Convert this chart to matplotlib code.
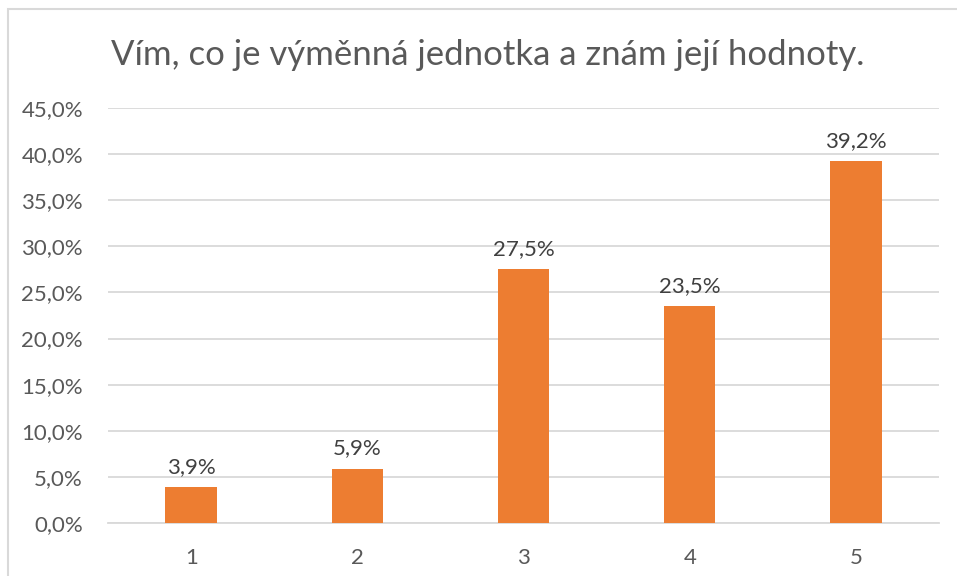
import matplotlib
matplotlib.use('Agg')
import matplotlib.pyplot as plt
from matplotlib.patches import Rectangle

# data
categories = ['1', '2', '3', '4', '5']
values = [3.9, 5.9, 27.5, 23.5, 39.2]
yticks = [0, 5, 10, 15, 20, 25, 30, 35, 40, 45]

plt.rcParams['font.family'] = ['Lato', 'DejaVu Sans']

fig = plt.figure(figsize=(9.57, 5.76), dpi=100)
ax = fig.add_axes([0.1129, 0.092, 0.8683, 0.7205])

x = range(len(categories))
ax.bar(x, values, width=0.31, color='#ED7D31', zorder=3)
for i, v in zip(x, values):
    ax.text(i, v + 1.1, f'{v:.1f}%'.replace('.', ','), ha='center', va='bottom',
            fontsize=16, color='#404040')

ax.set_xlim(-0.5, len(categories) - 0.5)
ax.set_ylim(0, 45)
ax.set_yticks(yticks)
ax.set_yticklabels([f'{t:.1f}%'.replace('.', ',') for t in yticks])
ax.set_xticks(list(x))
ax.set_xticklabels(categories)
ax.tick_params(axis='both', length=0, labelsize=16, labelcolor='#595959')
ax.tick_params(axis='y', pad=18)
ax.tick_params(axis='x', pad=18)
ax.grid(axis='y', color='#d9d9d9', linewidth=1.3, zorder=0)
for s in ['top', 'right', 'left']:
    ax.spines[s].set_visible(False)
ax.spines['bottom'].set_color('#d9d9d9')
ax.spines['bottom'].set_linewidth(1.3)

fig.text(0.51, 0.905, 'Vím, co je výměnná jednotka a znám její hodnoty.',
         ha='center', va='center', fontsize=25, color='#595959')

fig.patches.append(Rectangle((8 / 957, -0.1), 1.0, 1 - 9 / 576 + 0.1,
                             transform=fig.transFigure, fill=False,
                             edgecolor='#d9d9d9', linewidth=1.5))

fig.savefig('out.png', dpi=100)
